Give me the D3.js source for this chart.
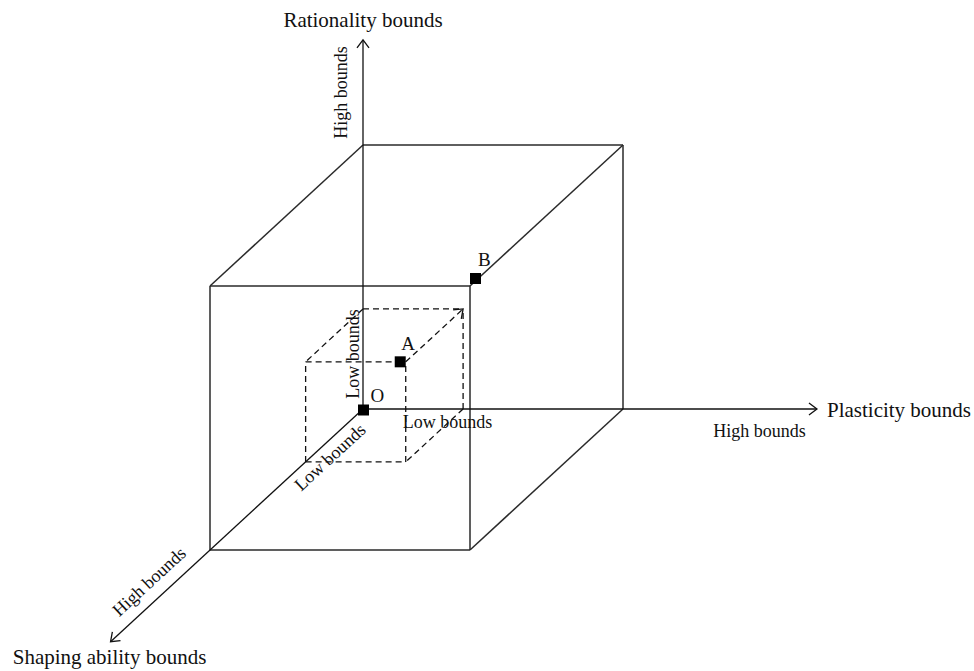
<!DOCTYPE html>
<html>
<head>
<meta charset="utf-8">
<script src="https://cdn.jsdelivr.net/npm/d3@7"></script>
<style>
  html, body { margin: 0; padding: 0; background: #fff; }
  svg { display: block; }
  text { font-family: "Liberation Serif", "Times New Roman", serif; fill: #111; }
</style>
</head>
<body>
<svg id="chart" width="974" height="671"></svg>
<script>
// ---- data ----
const axisNames = ["Plasticity bounds", "Rationality bounds", "Shaping ability bounds"];
const boundLabels = ["Low bounds", "High bounds"];
const axisLength = [1.746, 1.398, 1.65];          // axis extent, in "high bound" units
const pointNames = ["O", "A", "B"];
const pointPlasticity = [0, 0.385, 1];
const pointRationality = [0, 0.379, 1];
const pointShaping = [0, 0.375, 1];

// ---- projection (oblique 3D) ----
const svg = d3.select("#chart");
const origin = [363, 409];
const xPlast = d3.scaleLinear().domain([0, 1]).range([0, 260]);
const yRat = d3.scaleLinear().domain([0, 1]).range([0, -264]);
const shX = d3.scaleLinear().domain([0, 1]).range([0, -153]);
const shY = d3.scaleLinear().domain([0, 1]).range([0, 141]);
function proj(p, r, s) {
  return [origin[0] + xPlast(p) + shX(s), origin[1] + yRat(r) + shY(s)];
}

// arrowhead
const defs = svg.append("defs");
defs.append("marker")
  .attr("id", "arrow").attr("markerUnits", "userSpaceOnUse")
  .attr("viewBox", "-10 -8 12 16").attr("refX", 0).attr("refY", 0)
  .attr("markerWidth", 12).attr("markerHeight", 16).attr("orient", "auto")
  .append("path").attr("d", "M-8,-6 L0,0 L-8,6")
  .attr("fill", "none").attr("stroke", "#111").attr("stroke-width", 1.3);

// cube edges (skip edges lying on the axes)
function cubeEdges(p, r, s) {
  const corners = [];
  for (const a of [0, 1]) for (const b of [0, 1]) for (const c of [0, 1]) corners.push([a, b, c]);
  const edges = [];
  corners.forEach((u, i) => corners.forEach((v, j) => {
    if (j <= i) return;
    const diff = u.map((x, k) => Math.abs(x - v[k])).reduce((q, w) => q + w, 0);
    if (diff !== 1) return;
    const onAxis = [u, v].every(c => c.filter(x => x === 0).length >= 2);
    if (onAxis) return;
    edges.push([u, v]);
  }));
  return edges.map(([u, v]) => ({
    a: proj(u[0] * p, u[1] * r, u[2] * s),
    b: proj(v[0] * p, v[1] * r, v[2] * s),
    u, v
  }));
}

// big cube (point B)
const big = cubeEdges(pointPlasticity[2], pointRationality[2], pointShaping[2]);
svg.append("g").selectAll("line").data(big).join("line")
  .attr("x1", d => d.a[0]).attr("y1", d => d.a[1])
  .attr("x2", d => d.b[0]).attr("y2", d => d.b[1])
  .attr("stroke", "#2a2a2a").attr("stroke-width", 1.5);

// small dashed cube (point A) — edge from A to back corner carries an arrow
const small = cubeEdges(pointPlasticity[1], pointRationality[1], pointShaping[1]).map(e => {
  // orient edges so that the A-diagonal goes from front (s=1) to back (s=0)
  if (e.u[0] === 1 && e.u[1] === 1 && e.v[0] === 1 && e.v[1] === 1) {
    return { a: e.b, b: e.a, arrow: true };
  }
  return { a: e.a, b: e.b, arrow: false };
});
svg.append("g").selectAll("line").data(small).join("line")
  .attr("x1", d => d.a[0]).attr("y1", d => d.a[1])
  .attr("x2", d => d.b[0]).attr("y2", d => d.b[1])
  .attr("stroke", "#111").attr("stroke-width", 1.3)
  .attr("stroke-dasharray", "6,4")
  .attr("marker-end", d => d.arrow ? "url(#arrow)" : null);

// axes
const axisEnds = [
  proj(axisLength[0], 0, 0),
  proj(0, axisLength[1], 0),
  proj(0, 0, axisLength[2])
];
svg.append("g").selectAll("line").data(axisEnds).join("line")
  .attr("x1", origin[0]).attr("y1", origin[1])
  .attr("x2", d => d[0]).attr("y2", d => d[1])
  .attr("stroke", "#111").attr("stroke-width", 1.3)
  .attr("marker-end", "url(#arrow)");

// axis titles
const pEnd = axisEnds[0], rEnd = axisEnds[1], sEnd = axisEnds[2];
svg.append("text").attr("x", pEnd[0] + 10).attr("y", pEnd[1] + 8)
  .attr("font-size", 21).text(axisNames[0]);
svg.append("text").attr("x", rEnd[0]).attr("y", rEnd[1] - 13)
  .attr("text-anchor", "middle").attr("font-size", 21).text(axisNames[1]);
svg.append("text").attr("x", sEnd[0] - 1).attr("y", sEnd[1] + 22)
  .attr("text-anchor", "middle").attr("font-size", 21).text(axisNames[2]);

// bound labels
const lab = svg.append("g").attr("font-size", 18);
// plasticity
let q = proj(0.325, 0, 0);
lab.append("text").attr("x", q[0]).attr("y", q[1] + 19).attr("text-anchor", "middle").text(boundLabels[0]);
q = proj(1.525, 0, 0);
lab.append("text").attr("x", q[0]).attr("y", q[1] + 28).attr("text-anchor", "middle").text(boundLabels[1]);
// rationality
q = proj(0, 0.208, 0);
lab.append("text").attr("transform", `translate(${q[0] - 4},${q[1]}) rotate(-90)`)
  .attr("text-anchor", "middle").text(boundLabels[0]);
q = proj(0, 1.199, 0);
lab.append("text").attr("transform", `translate(${q[0] - 16},${q[1]}) rotate(-90)`)
  .attr("text-anchor", "middle").text(boundLabels[1]);
// shaping
const ang = Math.atan2(shY(1), -shX(1)) * 180 / Math.PI; // along-axis angle
q = proj(0, 0, 0.273);
lab.append("text").attr("transform", `translate(${q[0]},${q[1]}) rotate(${-ang}) translate(0,19)`)
  .attr("text-anchor", "middle").text(boundLabels[0]);
q = proj(0, 0, 1.318);
lab.append("text").attr("transform", `translate(${q[0]},${q[1]}) rotate(${-ang}) translate(0,-12)`)
  .attr("text-anchor", "middle").text(boundLabels[1]);

// points
const markOffset = [[0.5, 1], [-5.5, 0], [5.5, -7.5]];
const labelOffset = [[7, -8], [1, -12], [2.5, -12.5]];
const pts = pointNames.map((n, i) => {
  const c = proj(pointPlasticity[i], pointRationality[i], pointShaping[i]);
  return { n, x: c[0] + markOffset[i][0], y: c[1] + markOffset[i][1], i };
});
svg.append("g").selectAll("rect").data(pts).join("rect")
  .attr("x", d => d.x - 5.5).attr("y", d => d.y - 5.5)
  .attr("width", 11).attr("height", 11).attr("fill", "#000");
svg.append("g").selectAll("text").data(pts).join("text")
  .attr("x", d => d.x + labelOffset[d.i][0]).attr("y", d => d.y + labelOffset[d.i][1])
  .attr("font-size", 19).text(d => d.n);
</script>
</body>
</html>
